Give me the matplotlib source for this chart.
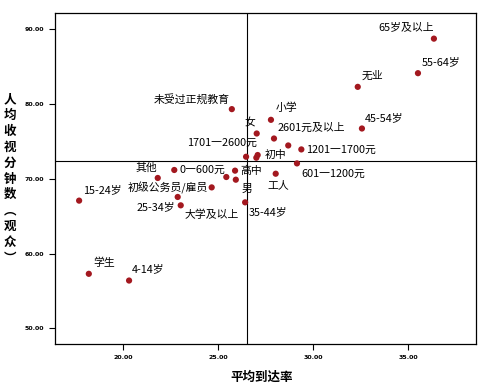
import matplotlib
matplotlib.use("Agg")
import matplotlib.pyplot as plt

plt.rcParams['font.family'] = ['Noto Sans CJK SC', 'DejaVu Sans']

# ---- data ----
labels = ["65岁及以上", "55-64岁", "无业", "45-54岁", "小学", "2601元及以上", "女",
          "未受过正规教育", "", "1201一1700元", "1701一2600元", "初中", "",
          "601一1200元", "0一600元", "其他", "高中", "", "男", "工人",
          "初级公务员/雇员", "25-34岁", "大学及以上", "35-44岁",
          "15-24岁", "学生", "4-14岁"]
reach = [36.35, 35.51, 32.34, 32.56, 27.77, 27.93, 27.02,
         25.71, 28.68, 29.37, 26.46, 27.07, 27.00,
         29.14, 22.68, 21.81, 25.88, 25.42, 25.92, 28.02,
         24.65, 22.86, 23.02, 26.41,
         17.67, 18.18, 20.30]
minutes = [88.75, 84.13, 82.30, 76.73, 77.89, 75.39, 76.06,
           79.32, 74.46, 73.93, 72.95, 73.18, 72.82,
           72.06, 71.18, 70.11, 71.09, 70.24, 69.88, 70.68,
           68.85, 67.57, 66.45, 66.85,
           67.08, 57.29, 56.39]
mean_reach = 26.49
mean_minutes = 72.4
x_ticks = [20.0, 25.0, 30.0, 35.0]
y_ticks = [50.0, 60.0, 70.0, 80.0, 90.0]

# label placement (pixel offsets from point, ha)
label_offsets = {
    "65岁及以上": (-56, 12, 'left'), "55-64岁": (4, 10.6, 'left'), "无业": (4, 11, 'left'),
    "45-54岁": (3, 10.4, 'left'), "小学": (5, 12.3, 'left'), "2601元及以上": (3.7, 10.4, 'left'),
    "女": (-12.4, 10.4, 'left'), "未受过正规教育": (-1.7, 10.3, 'right'),
    "1201一1700元": (4.7, 0, 'left'), "1701一2600元": (11, 13.7, 'right'),
    "初中": (7.3, 0, 'left'), "601一1200元": (4, -10.3, 'left'), "0一600元": (5.7, 0, 'left'),
    "其他": (-22.7, 10.6, 'left'), "高中": (5, 0, 'left'), "男": (5.3, -9.3, 'left'),
    "工人": (-8, -11.3, 'left'), "初级公务员/雇员": (-3.4, 0, 'right'),
    "25-34岁": (-2.7, -10, 'right'), "大学及以上": (4.3, -9.3, 'left'),
    "35-44岁": (3.3, -9.6, 'left'), "15-24岁": (4, 10.3, 'left'),
    "学生": (4.3, 11.3, 'left'), "4-14岁": (3, 11, 'left'),
}

fig = plt.figure(figsize=(4.82, 3.87), dpi=100)
ax = fig.add_axes([55 / 482, 1 - 344 / 387, (475.7 - 55) / 482, (344 - 13.3) / 387])
ax.set_xlim(16.4, 38.55)
ax.set_ylim(47.9, 92.14)

ax.axvline(mean_reach, color='black', lw=0.8, zorder=1)
ax.axhline(mean_minutes, color='black', lw=0.8, zorder=1)

ax.scatter(reach, minutes, s=20, color='#A3181F', edgecolors='none', zorder=3)

for lab, xv, yv in zip(labels, reach, minutes):
    if not lab:
        continue
    dx, dy, ha = label_offsets[lab]
    ax.annotate(lab, (xv, yv), xytext=(dx, dy), textcoords='offset pixels',
                ha=ha, va='center', fontsize=7.8, color='black', zorder=4)

ax.set_xticks(x_ticks)
ax.set_yticks(y_ticks)
ax.set_xticklabels([f"{v:.2f}" for v in x_ticks], family='DejaVu Sans', fontsize=4.5, fontweight='bold')
ax.set_yticklabels([f"{v:.2f}" for v in y_ticks], family='DejaVu Sans', fontsize=4.5, fontweight='bold')
ax.tick_params(direction='out', length=4, width=0.8, pad=4)
for sp in ax.spines.values():
    sp.set_linewidth(0.9)

fig.text(262 / 482, 1 - 377.7 / 387, "平均到达率", ha='center', va='center',
         fontsize=9, fontweight='bold')

ylab = ["人", "均", "收", "视", "分", "钟", "数", "︵", "观", "众", "︶"]
for i, ch in enumerate(ylab):
    yp = 100 + i * 15.8
    fig.text(10 / 482, 1 - yp / 387, ch, ha='center', va='center',
             fontsize=9, fontweight='bold')

fig.savefig("out.png", dpi=100)
